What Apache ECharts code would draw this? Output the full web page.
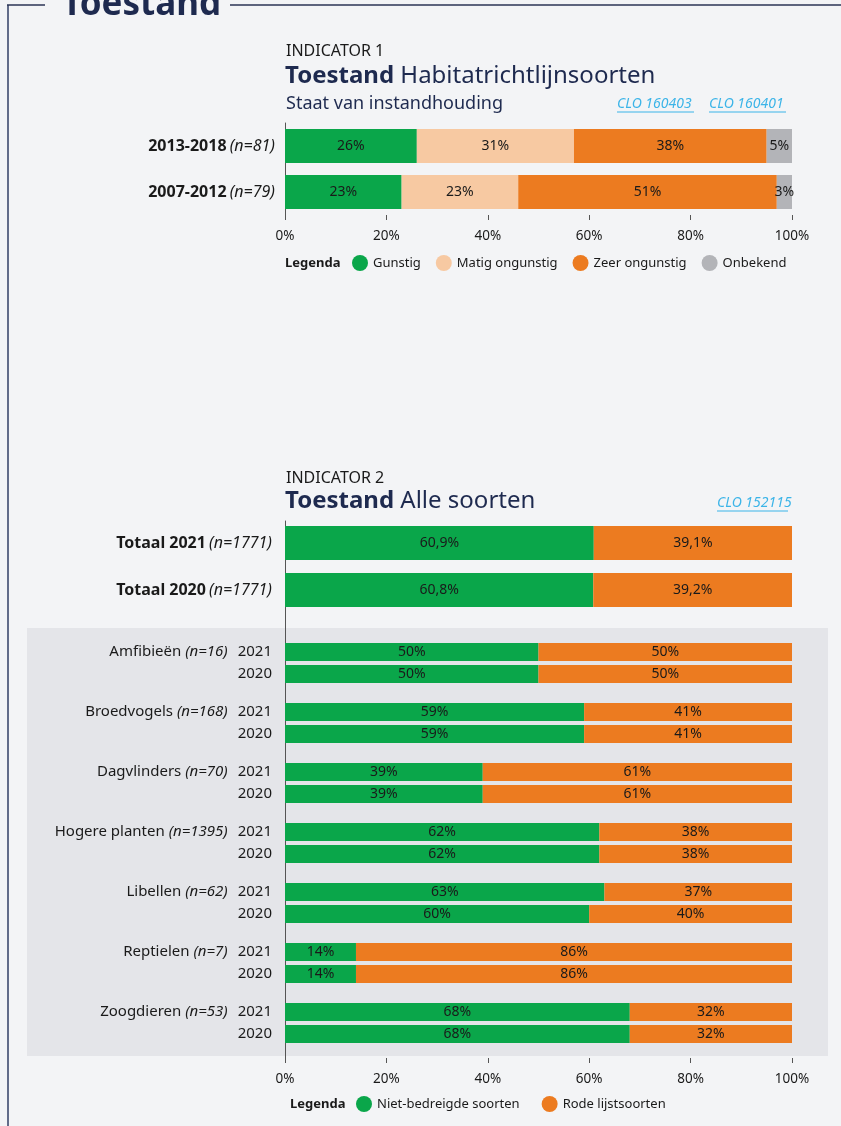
<!DOCTYPE html>
<html>
<head>
<meta charset="utf-8">
<script src="https://cdn.jsdelivr.net/npm/echarts@6/dist/echarts.min.js"></script>
<style>
html,body{margin:0;padding:0;background:#f3f4f6;}
#c{width:841px;height:1126px;}
</style>
</head>
<body>
<div id="c"></div>
<script>
// ---- Indicator 1 data ----
const periods = ['2013-2018', '2007-2012'];
const periodN = [81, 79];
const gunstig = [26, 23];
const matig = [31, 23];
const zeer = [38, 51];
const onbekend = [5, 3];
const legend1 = ['Gunstig', 'Matig ongunstig', 'Zeer ongunstig', 'Onbekend'];

// ---- Indicator 2 data ----
const totalCats = ['Totaal 2021', 'Totaal 2020'];
const totalN = [1771, 1771];
const totalSafe = [60.9, 60.8];
const totalRed = [39.1, 39.2];
const species = ['Amfibieën', 'Broedvogels', 'Dagvlinders', 'Hogere planten', 'Libellen', 'Reptielen', 'Zoogdieren'];
const speciesN = [16, 168, 70, 1395, 62, 7, 53];
const years = ['2021', '2020'];
const safe2021 = [50, 59, 39, 62, 63, 14, 68];
const safe2020 = [50, 59, 39, 62, 60, 14, 68];
const red2021 = [50, 41, 61, 38, 37, 86, 32];
const red2020 = [50, 41, 61, 38, 40, 86, 32];
const legend2 = ['Niet-bedreigde soorten', 'Rode lijstsoorten'];

const FONT = '"Noto Sans", sans-serif';
const NAVY = '#1e2a4f';
const TXT = '#1a1a1a';
const GREEN = '#0aa64a', PEACH = '#f7c9a2', ORANGE = '#ec7b20', GREY = '#b3b4b8';
const LINK = '#3bb4e8';

const chart = echarts.init(document.getElementById('c'), null, {renderer: 'canvas'});

const grids = [], xAxes = [], yAxes = [], series = [];

function pctAxis(gi, show) {
  return {
    type: 'value', gridIndex: gi, min: 0, max: 100, interval: 20, show: true,
    axisLine: {show: false},
    axisTick: {show: show, length: 5, lineStyle: {color: '#555', width: 1}},
    axisLabel: {show: show, formatter: '{value}%', color: TXT, fontFamily: FONT, fontSize: 13.5, margin: 14},
    splitLine: {show: false}
  };
}
const barLabel = {show: true, position: 'inside', color: TXT, fontFamily: FONT, fontSize: 14};

// Grid 0: indicator 1
grids.push({left: 285, top: 123, width: 507, height: 92});
xAxes.push(pctAxis(0, true));
yAxes.push({
  type: 'category', gridIndex: 0, data: periods, inverse: true,
  axisLine: {show: true, lineStyle: {color: '#555', width: 1}}, axisTick: {show: false},
  axisLabel: {
    margin: 10, color: TXT, fontFamily: FONT,
    formatter: (v, i) => `{b|${v}} {i|(n=${periodN[i]})}`,
    rich: {b: {fontWeight: 'bold', fontSize: 16, fontFamily: FONT, color: TXT}, i: {fontStyle: 'italic', fontSize: 16, fontFamily: FONT, color: TXT}}
  }
});
[[legend1[0], gunstig, GREEN], [legend1[1], matig, PEACH], [legend1[2], zeer, ORANGE], [legend1[3], onbekend, GREY]].forEach(([n, d, c]) => {
  series.push({type: 'bar', name: n, xAxisIndex: 0, yAxisIndex: 0, stack: 'ind1', barWidth: 34, data: d,
    itemStyle: {color: c}, label: Object.assign({}, barLabel, {formatter: p => p.value + '%'})});
});

// Grid 1: totals
grids.push({left: 285, top: 519.5, width: 507, height: 94});
xAxes.push(pctAxis(1, false));
yAxes.push({
  type: 'category', gridIndex: 1, data: totalCats, inverse: true,
  axisLine: {show: false}, axisTick: {show: false},
  axisLabel: {
    margin: 13, color: TXT, fontFamily: FONT,
    formatter: (v, i) => `{b|${v}} {i|(n=${totalN[i]})}`,
    rich: {b: {fontWeight: 'bold', fontSize: 16, fontFamily: FONT, color: TXT}, i: {fontStyle: 'italic', fontSize: 16, fontFamily: FONT, color: TXT}}
  }
});
const commaPct = p => String(p.value).replace('.', ',') + '%';
series.push({type: 'bar', name: legend2[0], xAxisIndex: 1, yAxisIndex: 1, stack: 'tot', barWidth: 34, data: totalSafe,
  itemStyle: {color: GREEN}, label: Object.assign({}, barLabel, {formatter: commaPct})});
series.push({type: 'bar', name: legend2[1], xAxisIndex: 1, yAxisIndex: 1, stack: 'tot', barWidth: 34, data: totalRed,
  itemStyle: {color: ORANGE}, label: Object.assign({}, barLabel, {formatter: commaPct})});

// Grids 2..8: species groups
species.forEach((sp, k) => {
  const gi = 2 + k;
  grids.push({left: 285, top: 641 + 60 * k, width: 507, height: 44});
  xAxes.push(pctAxis(gi, false));
  yAxes.push({
    type: 'category', gridIndex: gi, data: years, inverse: true,
    axisLine: {show: false}, axisTick: {show: false},
    axisLabel: {
      margin: 13, color: TXT, fontFamily: FONT, fontSize: 15,
      formatter: (v, i) => i === 0 ? `{n|${sp} }{i|(n=${speciesN[k]})}{y|${v}}` : `{y|${v}}`,
      rich: {
        n: {fontSize: 15, fontFamily: FONT, color: TXT},
        i: {fontStyle: 'italic', fontSize: 15, fontFamily: FONT, color: TXT},
        y: {fontSize: 15, fontFamily: FONT, color: TXT, padding: [0, 0, 0, 10]}
      }
    }
  });
  series.push({type: 'bar', name: legend2[0], xAxisIndex: gi, yAxisIndex: gi, stack: 'g' + k, barWidth: 18,
    data: [safe2021[k], safe2020[k]], itemStyle: {color: GREEN}, label: Object.assign({}, barLabel, {formatter: p => p.value + '%'})});
  series.push({type: 'bar', name: legend2[1], xAxisIndex: gi, yAxisIndex: gi, stack: 'g' + k, barWidth: 18,
    data: [red2021[k], red2020[k]], itemStyle: {color: ORANGE}, label: Object.assign({}, barLabel, {formatter: p => p.value + '%'})});
});

// Grid 9: shared axis of indicator 2
grids.push({left: 285, top: 521, width: 507, height: 537});
xAxes.push(pctAxis(9, true));
yAxes.push({type: 'value', gridIndex: 9, min: 0, max: 1, axisLine: {show: true, onZero: false, lineStyle: {color: '#555', width: 1}},
  axisTick: {show: false}, axisLabel: {show: false}, splitLine: {show: false}});

const legendCommon = {
  orient: 'horizontal', icon: 'circle', itemWidth: 16, itemHeight: 16, selectedMode: false, padding: 0,
  textStyle: {color: TXT, fontFamily: FONT, fontSize: 13}
};

const option = {
  backgroundColor: '#f3f4f6',
  animation: false,
  grid: grids, xAxis: xAxes, yAxis: yAxes, series: series,
  legend: [
    Object.assign({}, legendCommon, {data: legend1, left: 352, top: 255, itemGap: 15}),
    Object.assign({}, legendCommon, {data: legend2, left: 356, top: 1096, itemGap: 22})
  ],
  graphic: [
    // frame
    {type: 'rect', z: -10, silent: true, shape: {x: 27, y: 628, width: 801, height: 428}, style: {fill: '#e4e5e9'}},
    {type: 'line', silent: true, shape: {x1: 8, y1: 5, x2: 8, y2: 1126}, style: {stroke: '#626c89', lineWidth: 2}},
    {type: 'line', silent: true, shape: {x1: 7, y1: 5, x2: 45, y2: 5}, style: {stroke: '#2b3454', lineWidth: 1.5}},
    {type: 'line', silent: true, shape: {x1: 230, y1: 5, x2: 841, y2: 5}, style: {stroke: '#2b3454', lineWidth: 1.5}},
    {type: 'text', x: 62, y: 5, style: {text: 'Toestand', fill: NAVY, font: 'bold 35px ' + FONT, textVerticalAlign: 'middle'}},
    // Indicator 1 titles
    {type: 'text', x: 286, y: 51, style: {text: 'INDICATOR 1', fill: TXT, font: '16px ' + FONT, textVerticalAlign: 'middle'}},
    {type: 'text', x: 285, y: 76, style: {text: '{b|Toestand} Habitatrichtlijnsoorten', fill: NAVY, font: '24px ' + FONT, textVerticalAlign: 'middle',
      rich: {b: {fill: NAVY, font: 'bold 24px ' + FONT}}}},
    {type: 'text', x: 286, y: 104, style: {text: 'Staat van instandhouding', fill: NAVY, font: '18px ' + FONT, textVerticalAlign: 'middle'}},
    {type: 'text', x: 617, y: 104, style: {text: 'CLO 160403', fill: LINK, font: 'italic 14px ' + FONT, textVerticalAlign: 'middle'}},
    {type: 'line', shape: {x1: 617, y1: 112, x2: 694, y2: 112}, style: {stroke: LINK, lineWidth: 1}},
    {type: 'text', x: 709, y: 104, style: {text: 'CLO 160401', fill: LINK, font: 'italic 14px ' + FONT, textVerticalAlign: 'middle'}},
    {type: 'line', shape: {x1: 709, y1: 112, x2: 786, y2: 112}, style: {stroke: LINK, lineWidth: 1}},
    {type: 'text', x: 285, y: 263, style: {text: 'Legenda', fill: TXT, font: 'bold 13px ' + FONT, textVerticalAlign: 'middle'}},
    // Indicator 2 titles
    {type: 'text', x: 286, y: 478, style: {text: 'INDICATOR 2', fill: TXT, font: '16px ' + FONT, textVerticalAlign: 'middle'}},
    {type: 'text', x: 285, y: 501, style: {text: '{b|Toestand} Alle soorten', fill: NAVY, font: '24px ' + FONT, textVerticalAlign: 'middle',
      rich: {b: {fill: NAVY, font: 'bold 24px ' + FONT}}}},
    {type: 'text', x: 717, y: 503, style: {text: 'CLO 152115', fill: LINK, font: 'italic 14px ' + FONT, textVerticalAlign: 'middle'}},
    {type: 'line', shape: {x1: 717, y1: 511, x2: 788, y2: 511}, style: {stroke: LINK, lineWidth: 1}},
    {type: 'text', x: 290, y: 1104, style: {text: 'Legenda', fill: TXT, font: 'bold 13px ' + FONT, textVerticalAlign: 'middle'}}
  ]
};
chart.setOption(option);
</script>
</body>
</html>
